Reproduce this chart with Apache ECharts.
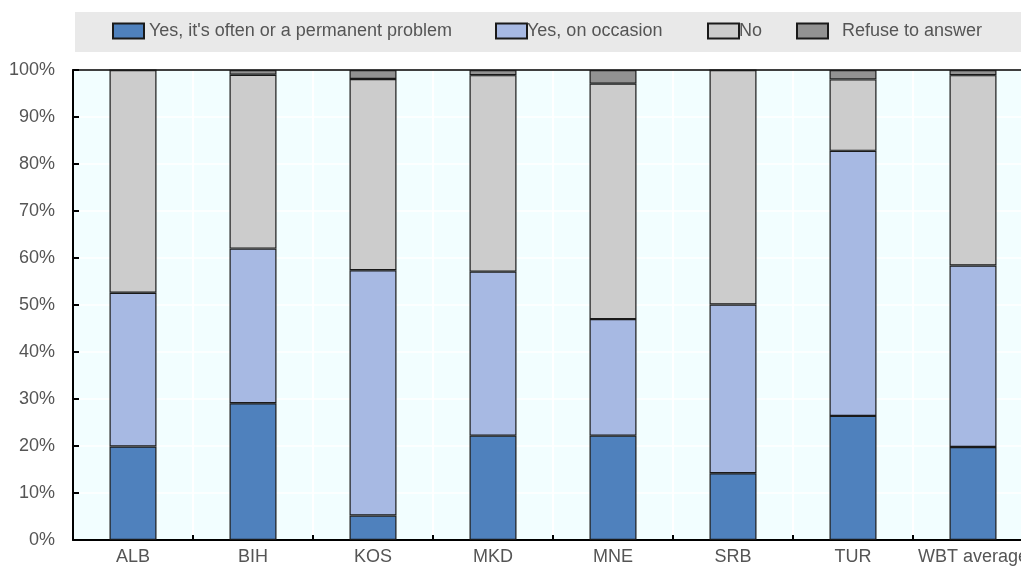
<!DOCTYPE html>
<html>
<head>
<meta charset="utf-8">
<script src="https://cdn.jsdelivr.net/npm/echarts@6/dist/echarts.min.js"></script>
<style>
  html, body { margin: 0; padding: 0; background: #ffffff; }
  #chart { width: 1021px; height: 566px; }
</style>
</head>
<body>
<div id="chart"></div>
<script>
// Share of respondents by answer, stacked to 100% per economy
const categories = ['ALB', 'BIH', 'KOS', 'MKD', 'MNE', 'SRB', 'TUR', 'WBT average'];
const seriesNames = ['Yes, it\'s often or a permanent problem', 'Yes, on occasion', 'No', 'Refuse to answer'];
const often    = [19.9, 29.1, 5.2, 22.2, 22.2, 14.2, 26.4, 19.8];
const occasion = [32.7, 32.9, 52.2, 34.9, 24.8, 35.9, 56.4, 38.6];
const no       = [47.4, 37.0, 40.7, 41.8, 50.1, 49.9, 15.2, 40.5];
const refuse   = [0.0, 1.0, 1.9, 1.1, 2.9, 0.0, 2.0, 1.1];
const yTicks = [0, 10, 20, 30, 40, 50, 60, 70, 80, 90, 100];

const colors = ['#4F81BD', '#A7B9E3', '#CCCCCC', '#929292'];
const FONT = '"Liberation Sans", Arial, sans-serif';
const FONT_SIZE = 18;
const TEXT_COLOR = '#555555';

const values = [often, occasion, no, refuse];

const chart = echarts.init(document.getElementById('chart'), null, { renderer: 'canvas' });

// one legend block per entry so each can sit at its own spot in the band
const legendLefts = [112, 495, 707, 796];
const legendTextGap = [5, 0, 0, 14];
const legends = seriesNames.map((name, i) => ({
  data: [{ name: name, icon: 'rect' }],
  left: legendLefts[i],
  top: 22,
  padding: 0,
  itemWidth: 31,
  itemHeight: 15,
  itemGap: 0,
  selectedMode: false,
  textStyle: {
    fontFamily: FONT,
    fontSize: FONT_SIZE,
    color: TEXT_COLOR,
    padding: [0, 0, 0, legendTextGap[i] - 5]
  }
}));

const option = {
  animation: false,
  backgroundColor: '#ffffff',
  textStyle: { fontFamily: FONT },
  graphic: [{
    type: 'rect',
    z: -1,
    shape: { x: 75, y: 12, width: 946, height: 40 },
    style: { fill: '#E9E9E9' }
  }],
  legend: legends,
  // the plot runs a little past the right edge of the page
  grid: {
    left: 73,
    top: 70,
    width: 960,
    height: 470,
    outerBoundsMode: 'none',
    containLabel: false,
    show: true,
    backgroundColor: '#F2FEFF',
    borderWidth: 0
  },
  xAxis: [{
    type: 'category',
    data: categories,
    boundaryGap: true,
    axisLine: { show: true, lineStyle: { color: '#000000', width: 2 } },
    axisTick: { show: true, inside: true, length: 5, lineStyle: { color: '#000000', width: 2 } },
    splitLine: { show: true, lineStyle: { color: '#FFFFFF', width: 2 } },
    axisLabel: {
      interval: 0,
      fontFamily: FONT,
      fontSize: FONT_SIZE,
      color: TEXT_COLOR,
      margin: 8
    }
  }, {
    // plain frame line along the top of the plot
    type: 'category',
    data: categories,
    position: 'top',
    axisLine: { show: true, lineStyle: { color: '#000000', width: 1.5 } },
    axisTick: { show: false },
    axisLabel: { show: false },
    splitLine: { show: false }
  }],
  yAxis: {
    type: 'value',
    min: yTicks[0],
    max: yTicks[yTicks.length - 1],
    interval: yTicks[1] - yTicks[0],
    axisLine: { show: true, lineStyle: { color: '#000000', width: 2 } },
    axisTick: { show: true, inside: true, length: 6, lineStyle: { color: '#000000', width: 2 } },
    splitLine: { show: true, lineStyle: { color: '#FFFFFF', width: 1.5 } },
    axisLabel: {
      fontFamily: FONT,
      fontSize: FONT_SIZE,
      color: TEXT_COLOR,
      margin: 18,
      formatter: '{value}%'
    }
  },
  series: seriesNames.map((name, i) => ({
    name: name,
    type: 'bar',
    stack: 'total',
    barWidth: 47,
    data: values[i],
    itemStyle: {
      color: colors[i],
      borderColor: '#1A1A1A',
      borderWidth: 1.2
    },
    emphasis: { disabled: true }
  }))
};

chart.setOption(option);
</script>
</body>
</html>
